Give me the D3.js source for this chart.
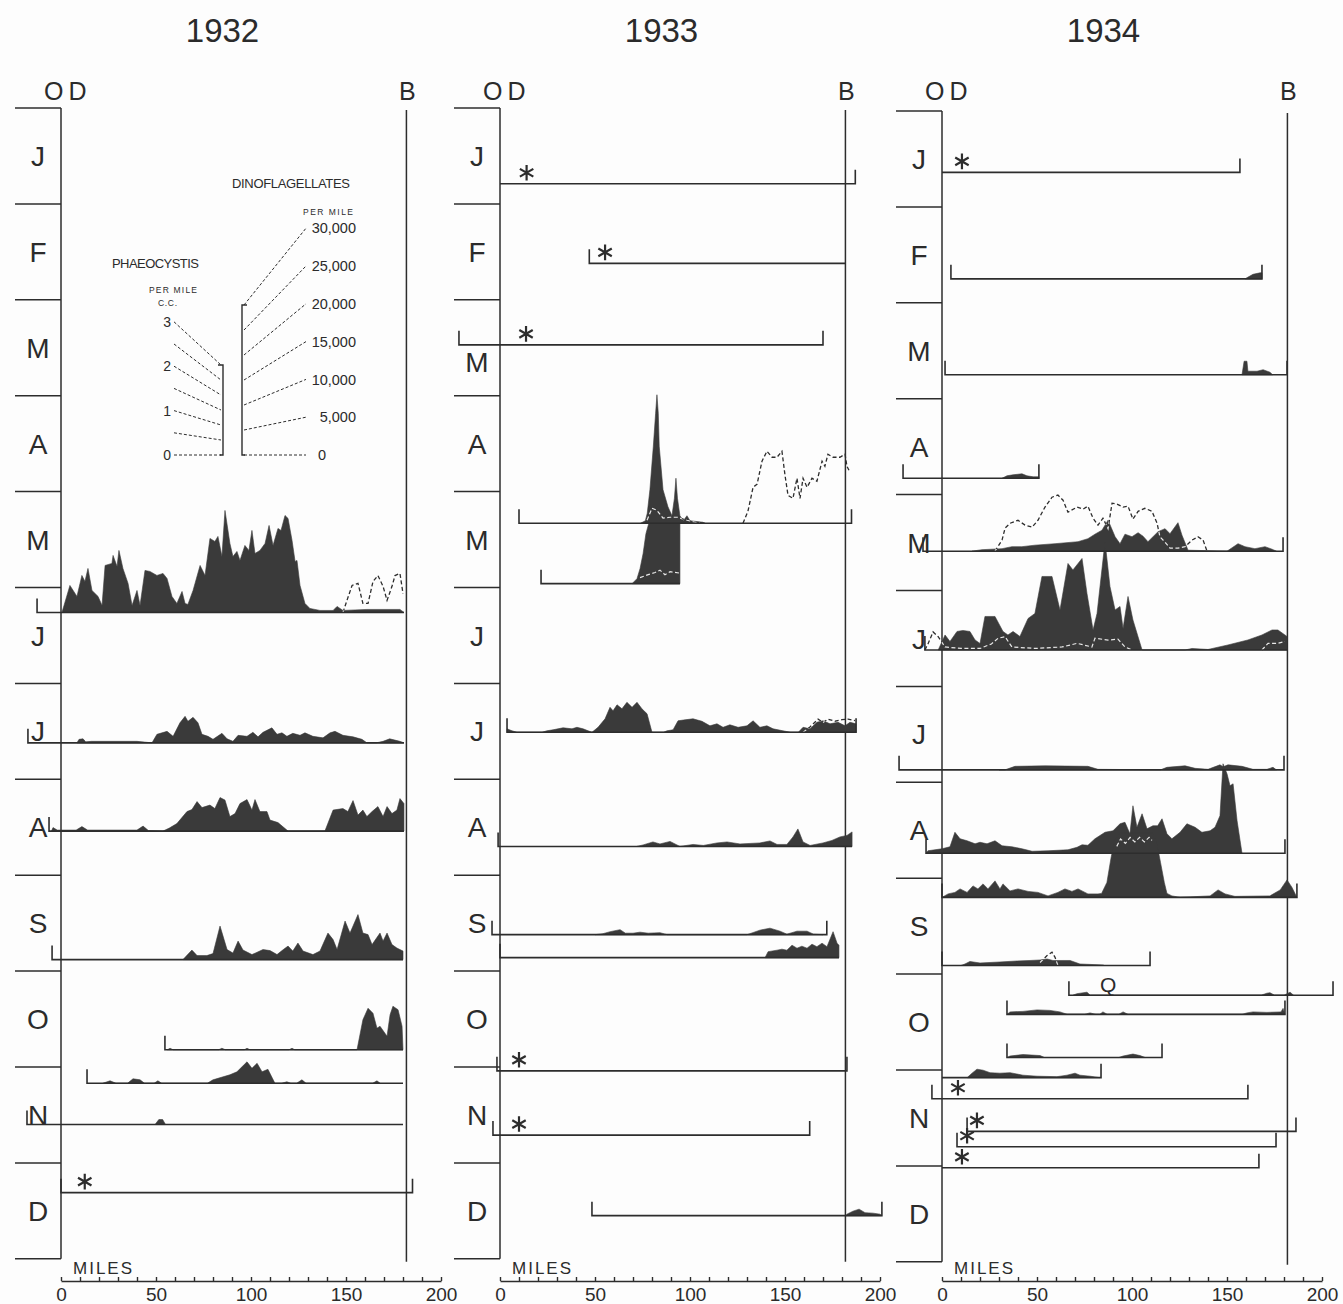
<!DOCTYPE html>
<html><head><meta charset="utf-8">
<script src="https://cdn.jsdelivr.net/npm/d3@7"></script>
<style>
html,body{margin:0;padding:0;background:#fdfdfd;}
svg{display:block;}
text{font-family:"Liberation Sans","DejaVu Sans",sans-serif;fill:#2b2b2b;}
</style></head><body>
<svg id="chart" width="1343" height="1304"></svg>
<script>
// ---------------- DATA ----------------
const years = ["1932", "1933", "1934"];
const months = ["J","F","M","A","M","J","J","A","S","O","N","D"];
const mileTicks = [0, 50, 100, 150, 200];
const minorMileTicks = d3.range(0, 201, 10);
const stationB = 181.8;               // miles from OD to B
const dinoLegendTicks = [0, 5000, 10000, 15000, 20000, 25000, 30000];   // per mile
const phaeoLegendTicks = [0, 0.5, 1, 1.5, 2, 2.5, 3];                   // c.c. per mile
const phaeoLegendLabels = {0: "0", 1: "1", 2: "2", 3: "3"};

// date = months from 1 Jan; from/to = miles from OD; dino = [mile, thousands per mile]; phaeo = segments of [mile, c.c.]
const traverses1932 = [
  {date: 5.26, from: -12.6, to: 180.5, br: "L",
   dino: [[0.5,0],[4.7,5.4],[8.4,3.2],[11,7.4],[12.6,6.2],[14.2,8.8],[16.3,4.4],[19.5,3.2],[21.6,1.4],[23.2,9.4],[26.8,9.8],[27.4,11.4],[29.5,9.2],[30.5,12.4],[32.6,8.8],[35.3,5.8],[37.4,1.4],[40,4.4],[41.6,1.4],[44.2,8.4],[46.8,8.2],[50.5,7.4],[53.7,7.8],[55.8,6.8],[58.4,3.2],[61,1.8],[63.7,4.2],[65.3,1.8],[66.8,1.6],[69.5,4.4],[73.2,9.4],[75.8,7.4],[78.4,14.8],[81,14.2],[82.6,15.2],[84.7,11.2],[86.3,20.4],[88.9,13.8],[90.5,11.2],[92.6,12.2],[94.2,10.4],[96.8,13.4],[98.9,12.4],[100.5,16.4],[102.1,11.8],[104.7,12.4],[107.4,13.8],[109.5,17.4],[111.6,13.4],[114.2,16.8],[115.8,16.4],[117.9,19.4],[119.5,18.8],[121.6,14.4],[123.2,10.2],[124.2,10.4],[125.8,5.4],[128.4,1.8],[131,0.8],[136.3,0.4],[143.2,0.4],[145.3,1.2],[148.4,0.4],[161,0.6],[178.4,0.6],[180.5,0]],
   phaeo: [[[148.4,0],[150.5,0.4],[153.2,0.9],[156.3,0.97],[158.9,0.3],[161.6,0.3],[164.2,1.03],[166.8,1.23],[169.5,0.87],[171.6,0.4],[174.2,0.87],[175.8,1.23],[178.4,1.3],[180,0.63]]]},
  {date: 6.62, from: -17.4, to: 180.5, br: "L",
   dino: [[8.4,0],[9.5,0.7],[11.6,0.8],[13,0.2],[16,0.3],[30,0.3],[40,0.3],[47.9,0],[50.5,1.7],[55.8,2.3],[59,1.3],[62.6,4],[65.3,5.3],[66.8,4.3],[69.5,5.1],[72.1,4],[74.2,1.7],[77.4,1.3],[80,0.7],[84.7,1.9],[87.4,0.8],[90.5,0.3],[93.2,1.5],[97.9,1.3],[101,2.1],[103.7,1.2],[106.3,2.1],[111,3],[113.7,1.7],[116.3,2],[118.9,1.3],[122,1.9],[125.8,1.5],[128.4,2],[132.6,1.3],[137.9,1],[141.6,2],[144.2,2.3],[148.4,1.5],[153.7,1.2],[158.4,0.7],[161,0],[166,0],[169.5,0.3],[173,0.8],[178.4,0.3],[180.5,0]]},
  {date: 7.54, from: -6.3, to: 180.5, br: "L",
   dino: [[-5,0],[-4.2,0.7],[-2,0.2],[8,0.2],[11,0.9],[14,0.2],[40,0.2],[43.2,1],[46,0.1],[53.7,0],[57,0.6],[61,1.5],[66.3,3.9],[68.9,4.3],[71.6,5.9],[74.2,4.7],[78.4,5.2],[81,4.5],[83.7,6.7],[86.3,6.2],[88.9,2.9],[91.6,3.5],[94.2,5.5],[97.9,6.3],[100.5,4.2],[102.1,6.3],[104.7,3.9],[108.4,3.9],[110,2.2],[114.2,1.7],[119.5,0],[138.9,0],[143.2,4.2],[148.4,4.5],[151,3.9],[153.7,6.1],[156.3,3.2],[158.9,4.2],[161,2.9],[163.7,3.9],[166.8,4.9],[169.5,2.9],[171.6,4.9],[174.2,3.5],[176.8,4.2],[178.4,6.5],[180.5,5.5]]},
  {date: 8.88, from: -4.7, to: 180, br: "L",
   dino: [[64.2,0],[68.9,1.9],[71.6,0.8],[76.8,0.8],[80,1.2],[83.7,6.7],[87.4,2],[90.5,1.3],[93.2,3.7],[95.8,1.9],[100.5,1],[106.3,2],[110,1.8],[113.7,1],[117,2],[119.5,2.7],[122,1.7],[124.7,3.3],[127.4,1.7],[132.6,1],[136.3,1.7],[140.5,5.3],[143.2,4],[145.3,2],[149.5,7.7],[152.1,5.3],[156.3,9],[158.9,5.3],[161.6,5],[163.7,3],[167.9,5.3],[169.5,3.7],[171.6,5.3],[174.2,3],[176.8,2.3],[180,1.7]]},
  {date: 9.82, from: 54.7, to: 180, br: "L",
   dino: [[56,0],[57.4,0.3],[59,0],[83,0],[84.7,0.3],[86.5,0],[96.5,0],[97.9,0.3],[99.5,0],[120,0],[121.6,0.3],[123,0],[155.8,0],[158.9,6],[161.6,8.3],[164.2,7.3],[166.3,4.3],[167.9,4.7],[171.6,2.7],[173.2,7],[174.7,8.7],[177.4,8],[179.5,4.7],[180,0]]},
  {date: 10.17, from: 13.7, to: 180, br: "L",
   dino: [[22,0],[25.8,0.5],[29,0],[35,0],[37.9,0.9],[41.6,0.7],[44,0],[49,0],[51,0.5],[53,0],[77,0],[80,0.7],[88.9,1.7],[92.6,2.3],[97.9,4.3],[100.5,3],[103.2,4],[105.8,2.3],[108.9,2.8],[112.6,0],[116,0],[118.9,0.3],[121,0],[124,0],[126.8,0.7],[129,0],[164,0],[166.3,0.5],[168,0]]},
  {date: 10.60, from: -17.9, to: 180, br: "L",
   dino: [[49.5,0],[51.5,1],[53.5,1],[55,0]]},
  {date: 11.31, from: 0, to: 185, br: "LR", star: 12.5}
];

const traverses1933 = [
  {date: 0.79, from: 0, to: 187, br: "R", star: 14},
  {date: 1.62, from: 47, to: 182, br: "L", star: 55.3},
  {date: 2.47, from: -21.6, to: 170, br: "LR", star: 13.7},
  {date: 4.33, from: 10, to: 185, br: "LR",
   dino: [[74,0],[76.5,0.5],[77.5,2],[78.9,6.7],[80.7,15.4],[81.9,22],[82.6,25.7],[83.3,22],[83.8,15.4],[85.8,6.7],[88.4,3.3],[90.5,1.5],[91.8,5],[92.6,9],[93.4,5],[94.7,1.5],[96.5,0.5],[98.4,1.5],[100,0.5],[106.8,0.2],[108,0]],
   phaeo: [[[77.4,0.1],[80,0.5],[82.6,0.43],[85.8,0.17],[89.5,0.2],[93.2,0.2],[98.4,0.1],[105.3,0]],
           [[127.9,0],[130.5,0.4],[133.2,1.2],[135.3,1.3],[137.9,2.07],[140.5,2.4],[143.2,2.2],[145.8,2.2],[148.4,2.4],[150,1.6],[151.6,0.93],[154.2,0.83],[156.3,1.5],[157.9,0.83],[159.5,1.5],[161.6,1.2],[164.2,1.5],[166.8,1.4],[169.5,2.07],[171,1.9],[172.6,2.3],[175.3,2.2],[178.9,2.2],[181.6,2.3],[182.6,1.9],[184.2,1.7]]]},
  {date: 4.96, from: 21.6, to: 94.7, br: "L",
   dino: [[69.5,0],[72.1,1],[73.7,3],[75.3,6],[76.8,10],[78.4,12.2],[94.7,12.2]],
   phaeo: [[[73.7,0.2],[78,0.3],[81.6,0.37],[84.2,0.45],[86.8,0.3],[89.5,0.4],[94.7,0.35]]]},
  {date: 6.51, from: 3.7, to: 187.4, br: "LR",
   dino: [[3.7,0.7],[6.3,0.3],[9,0],[22,0],[24.7,0.3],[27.9,0.5],[33.2,0.9],[37.9,0.7],[40.5,1],[43.7,0.7],[48.4,0],[51.6,1],[55.3,2.7],[57.9,5],[59.5,4.3],[61.6,5.5],[64.2,4.7],[66.8,6],[69.5,5],[72.1,6],[74.7,4.7],[77.4,3.7],[80,0],[86,0],[87.9,0.3],[91.1,0.5],[93.7,2.3],[97.4,2.5],[101.6,2.7],[106.3,2.2],[110.5,1.3],[114.2,1.7],[117.4,1],[121,1.5],[125.3,1],[130,1.3],[133.2,2.3],[136.8,1],[140.5,1.3],[143.7,0.7],[148.9,0.3],[153,0],[157,0],[159.5,1],[163.2,0.7],[166.8,2],[170,2.3],[173.7,1.7],[177.9,2],[181.6,1.3],[184.2,2],[187.4,1.7]],
   phaeo: [[[159.5,0],[163,0.17],[167.4,0.44],[170,0.33],[172.6,0.44],[176.3,0.37],[180,0.42],[183.2,0.44],[186.8,0.39]]]},
  {date: 7.70, from: -1, to: 185.3, br: "L",
   dino: [[72,0],[75.3,0.3],[80.5,0.9],[84.2,0.5],[89.5,1],[94.7,0],[101.6,0.4],[107,0.2],[114.2,0.7],[119.5,0.9],[126.3,0.5],[136.8,0.7],[142.1,1.1],[145.8,0.4],[151,0.4],[154.2,1.9],[156.8,3.5],[159.5,0.9],[163.2,0.2],[170,0.7],[174.7,1.2],[178.9,1.9],[182.6,2.2],[185.3,2.9]]},
  {date: 8.62, from: -4.2, to: 172, br: "LR",
   dino: [[50,0],[54.2,0.2],[58,0.6],[63.2,1],[66,0.3],[70,0.3],[73.7,0.5],[78,0.3],[84.2,0.4],[88,0],[130,0],[136.8,0.9],[142.1,1.3],[147.4,0.7],[151,0.1],[156.3,0.7],[161.6,0.7],[165,0.1],[170,0]]},
  {date: 8.86, from: 0, to: 178.4, br: "L",
   dino: [[139.5,0],[141.1,1.2],[145.8,1.5],[148.4,1.7],[151,1.5],[153.7,2.5],[156.3,1.9],[158.9,2.3],[161.6,1.9],[164.2,2.7],[166.8,2.2],[169.5,2.9],[172.1,2.2],[173.7,3.7],[175.3,5.2],[177.4,2.9],[178.4,2.5]]},
  {date: 10.04, from: -1.6, to: 182.6, br: "LR", star: 10},
  {date: 10.71, from: -3.7, to: 163, br: "LR", star: 10},
  {date: 11.55, from: 48.4, to: 201, br: "LR",
   dino: [[182,0],[182.6,0.3],[185.8,0.9],[189,1.3],[192.1,0.6],[196.3,0.5],[200,0.3],[201,0]]}
];

const traverses1934 = [
  {date: 0.64, from: 0, to: 156.8, br: "R", star: 10.5},
  {date: 1.75, from: 4.7, to: 168.4, br: "LR",
   dino: [[159.5,0],[163.7,0.9],[167.4,1.2],[168.4,1.2]]},
  {date: 2.75, from: 1.6, to: 181.6, br: "LR",
   dino: [[157.9,0],[159,2.7],[160.5,2.7],[161,0.7],[165.8,0.7],[169,1],[172.6,0.5],[174,0]]},
  {date: 3.83, from: -20.5, to: 51, br: "LR",
   dino: [[31.6,0],[34.2,0.5],[37.4,0.7],[42.1,0.9],[44.7,0.5],[48,0.3],[51,0.3]]},
  {date: 4.59, from: -10, to: 179.5, br: "LR",
   dino: [[15.8,0],[21,0.3],[31.6,0.5],[36.8,0.9],[42,0.9],[48.9,1.2],[59.5,1.5],[71.6,1.9],[76.8,2.5],[80.5,3.4],[84.2,4.2],[87.4,6.2],[91.1,2.9],[93.7,1.5],[96.3,3.4],[100,2.9],[103.2,3.7],[105.8,3],[108.4,1.9],[113.7,3.9],[117.4,4.5],[120,3.5],[124.2,5.7],[126.3,3.2],[129.5,0.2],[150,0],[155.8,1.5],[159.5,0.9],[164.7,0.5],[170,0.9],[173.7,0.4],[176,0]],
   phaeo: [[[27.9,0],[31.6,0.37],[33.2,0.77],[35.8,0.93],[40,1.03],[43.7,0.87],[47.4,0.8],[50.5,1.03],[54.2,1.47],[57.9,1.8],[61,1.87],[63.7,1.7],[66.3,1.3],[71.1,1.47],[74.2,1.4],[76.8,1.5],[79.5,1.1],[82.1,0.87],[84.7,1.1],[87.4,0.75],[89.5,1.6],[92.1,1.57],[95.3,1.47],[97.9,1.5],[100.5,1.07],[103.2,1.33],[106.8,1.43],[110.5,1.33],[113.2,0.93],[114.7,0.48],[117.4,0.3],[120,0.1],[124.2,0.1],[127.9,0.15],[131.6,0.37],[134.7,0.48],[137.4,0.37],[139.5,0]]]},
  {date: 5.62, from: -9, to: 181.6, br: "L",
   dino: [[-2,0],[1.6,3],[4.2,1.7],[7.9,3.7],[11,3.9],[14.7,3.7],[17.4,2],[20,1.3],[22.6,6.7],[27.9,6.7],[32.1,3.7],[34.7,3],[37.4,3.7],[41,2.7],[45.3,6.3],[48.9,7.3],[52.6,14.7],[57.9,14.7],[62.1,8],[66.3,17.3],[68.9,16],[73.7,18.3],[76.3,11.3],[79.5,4],[81.6,7.3],[85.8,21.7],[88.4,12.7],[91.1,8],[93.7,8.7],[95.3,4.3],[97.9,10.7],[100.5,6],[105.3,0],[128,0],[131.6,0.3],[140,0.1],[150.5,1],[161,2],[168.4,3],[173.7,4],[176.8,4],[181.6,2.7]],
   phaeo: [[[-9,0],[-7.4,0.2],[-4.7,0.6],[-2,0.44],[1.6,0.1],[10,0.05],[20,0.05],[26,0.2],[29.5,0.39],[33.2,0.44],[36.8,0.1],[48.9,0.05],[63.2,0.1],[71.1,0.22],[78.9,0.1],[80.5,0.39],[87.4,0.33],[92.6,0.36],[96.3,0.1],[100,0]],
           [[168.4,0],[171.6,0.22],[176.8,0.22],[180.5,0.28]]]},
  {date: 6.87, from: -22.6, to: 180, br: "LR",
   dino: [[30,0],[33.2,0],[38.4,0.7],[54.2,0.8],[76.8,0.7],[82.1,0.1],[115,0],[118.4,0.5],[127.9,0.8],[133.2,0.3],[140,0.1],[146.3,1],[148,0.6],[150.5,1],[157.9,0.7],[163.7,0.1],[171,0.1],[174.2,0.5],[176,0]]},
  {date: 7.74, from: -8.4, to: 180.5, br: "LR",
   dino: [[-8.4,0],[-7.4,0.5],[0,0.9],[4.2,1.3],[6.8,4.2],[9.5,2.9],[13.2,2.5],[17.4,1.9],[20,2.2],[23.7,1.9],[27.9,2.5],[31.6,1.5],[36.8,1.3],[42.1,0.9],[47.4,0.4],[55.8,0.5],[66.3,0.7],[71.1,1.2],[73.7,1.7],[76.8,1.6],[80.5,2.9],[85.8,4.2],[90,4.5],[93.7,5.9],[96.3,6.2],[98.9,3.9],[100.5,9.5],[102.6,5.2],[105.3,7.9],[107.9,4.9],[111,5.5],[113.5,5.5],[115.8,6.9],[118.4,3.9],[121,2.9],[125.3,4.2],[128.9,5.9],[133.2,5.2],[136.8,4.2],[141.1,4.5],[143.7,5.2],[146.3,7.5],[147.9,17.9],[150,15.9],[151.6,13.5],[153.2,13.9],[155.3,6.5],[157.9,0]]},
  {date: 8.20, from: 0, to: 186.8, br: "LR",
   dino: [[0,0],[3.2,0.7],[6.8,1],[9.5,1.7],[13.2,1],[16.3,2.3],[18.9,1.7],[21.6,2.7],[24.2,1.7],[27.9,3.3],[30.5,1.7],[32.1,2.7],[35.8,1.3],[40,1.7],[45.3,1.2],[50.5,1],[55.8,0.3],[61,1],[64.7,1.7],[68.4,1.2],[71.6,1.7],[76.8,0.7],[82.1,0.7],[84,0.8],[86.8,3],[89,8],[91,11.5],[93.7,12.8],[111,12.8],[113,11],[115,7],[117,3],[118.4,0.8],[121,0.3],[125.3,0],[141.1,0.3],[145.3,1.5],[149,0.7],[154.2,0.2],[172.6,0.3],[178,1.5],[181.6,3.5],[184.2,2],[186.8,0]],
   phaeo: [[[92,1.7],[94,1.95],[96.5,1.8],[99,2.0],[101.5,1.85],[104,2.0],[106.5,1.85],[109,2.0],[110.5,1.9]]]},
  {date: 8.91, from: 0, to: 109.5, br: "LR",
   dino: [[10,0],[12.1,0.3],[14.7,0.8],[20,0.5],[30.5,0.7],[39.5,0.9],[46.3,1],[51.6,1.1],[55.3,1.3],[58.4,1],[63.7,1],[67.4,1],[72.6,0.3],[84.7,0.1],[85.5,0]],
   phaeo: [[[51.6,0.1],[55.3,0.33],[57.9,0.44],[59.5,0.27],[61,0]]]},
  {date: 9.22, from: 66.8, to: 205.8, br: "LR", label: "Q", labelAt: 87.4,
   dino: [[69,0],[71,0.3],[76.3,0.6],[78,0],[168,0],[171,0.4],[172.6,0.5],[175,0],[180,0],[183.2,0.6],[185,0]]},
  {date: 9.42, from: 34.2, to: 180.5, br: "LR",
   dino: [[34.2,0],[35.8,0.5],[42.6,0.6],[50,0.9],[56.8,0.8],[62.1,0.5],[66,0],[75,0],[77.9,0.3],[81,0],[83,0],[84.7,0.5],[87,0],[93,0],[95.3,0.5],[98,0],[158,0],[160.5,0.3],[163.7,0.5],[171,0.4],[178.4,0.5],[179.5,1.2],[180.5,0]]},
  {date: 9.87, from: 34.2, to: 115.8, br: "LR",
   dino: [[34.2,0],[35.8,0.3],[42.6,0.6],[51.6,0.4],[54,0],[93,0],[95.3,0.3],[100.5,0.7],[104.2,0.4],[107,0]]},
  {date: 10.08, from: 0, to: 83.7, br: "R",
   dino: [[13.2,0],[15.8,0.9],[18.4,1.7],[21.6,1.5],[25.3,1],[30.5,0.9],[35.8,1],[42.6,0.5],[50,0.3],[60.5,0.2],[65.8,0.5],[70,0.9],[72.6,0.5],[77.9,0.3],[83,0]]},
  {date: 10.30, from: -5.3, to: 161, br: "LR", star: 8.4},
  {date: 10.64, from: 13.2, to: 186.3, br: "LR", star: 18.4},
  {date: 10.80, from: 7.9, to: 175.8, br: "LR", star: 13.2},
  {date: 11.02, from: 0, to: 166.8, br: "R", star: 10.5}
];

// ---------------- LAYOUT / STYLE ----------------
const panelLeft = [61, 500, 942];
const panelTop = [108, 108, 111];
const monthStep = 95.9;
const axisY = 1281;
const INK = "#2d2d2d", FILL = "#3a3a3a";
const hDino = d3.scaleLinear().domain([0, 30]).range([0, 150]);   // thousands/mile -> px
const hPhaeo = d3.scaleLinear().domain([0, 3]).range([0, 90]);    // c.c./mile -> px
const bracketH = 14;
const labelShift = [{}, {2: 14}, {}];   // month-label nudges (px) per panel
const allTraverses = [traverses1932, traverses1933, traverses1934];

const svg = d3.select("#chart");
svg.append("rect").attr("width", 1343).attr("height", 1304).attr("fill", "#fdfdfd");
const defs = svg.append("defs");

years.forEach((yr, i) => {
  const x = d3.scaleLinear().domain([0, 200]).range([panelLeft[i], panelLeft[i] + 380]);
  const y = d3.scaleLinear().domain([0, 12]).range([panelTop[i], panelTop[i] + 12 * monthStep]);
  const g = svg.append("g");

  // title and station letters
  g.append("text").attr("x", x(85)).attr("y", 42).attr("text-anchor", "middle")
    .attr("font-size", 33).text(yr);
  g.append("text").attr("x", x(0) - 17).attr("y", 100).attr("font-size", 25)
    .attr("letter-spacing", 5).text("OD");
  g.append("text").attr("x", x(stationB) + 1).attr("y", 100).attr("text-anchor", "middle")
    .attr("font-size", 25).text("B");

  // month separators and labels
  g.selectAll(".mt").data(d3.range(13)).join("line")
    .attr("x1", x(0) - 46).attr("x2", x(0)).attr("y1", d => y(d)).attr("y2", d => y(d))
    .attr("stroke", INK).attr("stroke-width", 1.5);
  g.selectAll(".ml").data(months).join("text")
    .attr("x", x(0) - 23).attr("y", (d, k) => y(k + 0.5) + (labelShift[i][k] || 0)).attr("dy", "0.36em")
    .attr("text-anchor", "middle").attr("font-size", 28).text(d => d);

  // OD and B verticals
  g.append("line").attr("x1", x(0)).attr("x2", x(0)).attr("y1", y(0)).attr("y2", y(12))
    .attr("stroke", INK).attr("stroke-width", 1.5);
  g.append("line").attr("x1", x(stationB)).attr("x2", x(stationB)).attr("y1", y(0) + 2).attr("y2", y(12) + 3)
    .attr("stroke", INK).attr("stroke-width", 1.5);

  // miles axis
  const ax = g.append("g").attr("transform", `translate(0,${axisY})`)
    .call(d3.axisTop(x).tickValues(minorMileTicks).tickSize(4).tickSizeOuter(0).tickFormat(""));
  ax.selectAll("path,line").attr("stroke", INK).attr("stroke-width", 1.4);
  const axl = g.append("g").attr("transform", `translate(0,${axisY})`)
    .call(d3.axisBottom(x).tickValues(mileTicks).tickSize(0).tickPadding(7));
  axl.select(".domain").remove();
  axl.selectAll("text").attr("font-size", 19).attr("fill", INK)
    .attr("font-family", "'Liberation Sans','DejaVu Sans',sans-serif");
  g.append("text").attr("x", x(0) + 12).attr("y", axisY - 7).attr("font-size", 17)
    .attr("letter-spacing", 2).text("MILES");

  const T = allTraverses[i];
  const area = d3.area().x(d => x(d[0])).y0(0).y1(d => -hDino(d[1]));
  const pLine = d3.line().x(d => x(d[0])).y(d => -hPhaeo(d[1]));

  // phaeocystis (dark, under the fills)
  T.forEach(t => (t.phaeo || []).forEach(seg => {
    g.append("path").attr("transform", `translate(0,${y(t.date)})`).attr("d", pLine(seg))
      .attr("fill", "none").attr("stroke", INK).attr("stroke-width", 1.3).attr("stroke-dasharray", "4,2.5");
  }));
  // dinoflagellate fills
  T.forEach((t, j) => {
    if (!t.dino) return;
    const d = area(t.dino);
    g.append("path").attr("transform", `translate(0,${y(t.date)})`).attr("d", d)
      .attr("fill", FILL).attr("stroke", FILL).attr("stroke-width", 0.6);
    if (t.phaeo) {
      const id = `clip-${i}-${j}`;
      defs.append("clipPath").attr("id", id).append("path").attr("d", d);
      const cg = g.append("g").attr("transform", `translate(0,${y(t.date)})`);
      const inner = cg.append("g").attr("clip-path", `url(#${id})`);
      t.phaeo.forEach(seg => inner.append("path").attr("d", pLine(seg)).attr("fill", "none")
        .attr("stroke", "#e8e8e8").attr("stroke-width", 1.2).attr("stroke-dasharray", "4,2.5"));
    }
  });
  // baselines, brackets, stars, labels
  T.forEach(t => {
    const yy = y(t.date);
    const p = d3.path();
    if (t.br.includes("L")) { p.moveTo(x(t.from), yy - bracketH); p.lineTo(x(t.from), yy); }
    else p.moveTo(x(t.from), yy);
    p.lineTo(x(t.to), yy);
    if (t.br.includes("R")) p.lineTo(x(t.to), yy - bracketH);
    g.append("path").attr("d", p.toString()).attr("fill", "none")
      .attr("stroke", INK).attr("stroke-width", 1.6);
    if (t.star !== undefined) {
      g.append("path").attr("d", d3.symbol(d3.symbolAsterisk || d3.symbolCross, 170)())
        .attr("transform", `translate(${x(t.star)},${yy - 11})`)
        .attr("fill", "none").attr("stroke", INK).attr("stroke-width", 2.2);
    }
    if (t.label) {
      g.append("text").attr("x", x(t.labelAt)).attr("y", yy - 3).attr("text-anchor", "middle")
        .attr("font-size", 21).text(t.label);
    }
  });
});

// ---------------- LEGEND (in 1932 panel) ----------------
const lg = svg.append("g");
const baseY = 455, pBarX = 223, dBarX = 242;
const dash = "3,2";
lg.append("text").attr("x", 112).attr("y", 268).attr("font-size", 13).attr("textLength", 87).text("PHAEOCYSTIS");
lg.append("text").attr("x", 149).attr("y", 293).attr("font-size", 8.5).attr("textLength", 48).text("PER MILE");
lg.append("text").attr("x", 158).attr("y", 306).attr("font-size", 8.5).attr("textLength", 19).text("C.C.");
lg.append("text").attr("x", 232).attr("y", 188).attr("font-size", 13).attr("textLength", 118).text("DINOFLAGELLATES");
lg.append("text").attr("x", 303).attr("y", 215).attr("font-size", 8.5).attr("textLength", 50).text("PER MILE");

lg.append("path").attr("d", `M${pBarX - 5},${baseY - hPhaeo(3)}H${pBarX}V${baseY}H${pBarX - 3}`)
  .attr("fill", "none").attr("stroke", INK).attr("stroke-width", 1.4);
lg.append("path").attr("d", `M${dBarX + 5},${baseY - hDino(30)}H${dBarX}V${baseY}H${dBarX + 3}`)
  .attr("fill", "none").attr("stroke", INK).attr("stroke-width", 1.4);

phaeoLegendTicks.forEach((v, k) => {
  const ly = baseY - k * 22.2;
  lg.append("line").attr("x1", 174).attr("y1", ly).attr("x2", pBarX - 2).attr("y2", baseY - hPhaeo(v))
    .attr("stroke", INK).attr("stroke-width", 1).attr("stroke-dasharray", dash);
  if (phaeoLegendLabels[v] !== undefined) {
    lg.append("text").attr("x", 171).attr("y", ly).attr("dy", "0.36em").attr("text-anchor", "end")
      .attr("font-size", 14).text(phaeoLegendLabels[v]);
  }
});
dinoLegendTicks.forEach((v, k) => {
  const ly = baseY - k * 37.8;
  lg.append("line").attr("x1", dBarX + 2).attr("y1", baseY - hDino(v / 1000)).attr("x2", 306).attr("y2", ly)
    .attr("stroke", INK).attr("stroke-width", 1).attr("stroke-dasharray", dash);
  lg.append("text").attr("x", v === 0 ? 318 : 356).attr("y", ly).attr("dy", "0.36em")
    .attr("text-anchor", v === 0 ? "start" : "end").attr("font-size", 14.5)
    .text(d3.format(",")(v));
});
</script>
</body></html>
